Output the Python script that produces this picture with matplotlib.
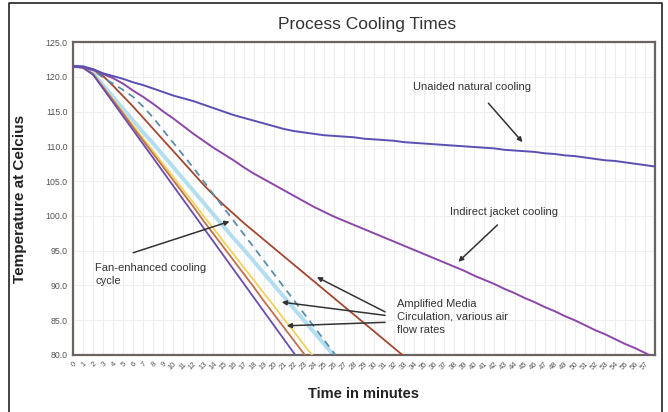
import matplotlib
matplotlib.use("Agg")
import matplotlib.pyplot as plt
from matplotlib.lines import Line2D

plt.rcParams['font.family'] = ['Liberation Sans', 'DejaVu Sans']

# ========== Data (minutes vs temperature, deg C) ==========
minutes = list(range(59))
tick_labels = [str(m) for m in range(58)]

natural = [121.5, 121.5, 121.1, 120.5, 120.1, 119.7, 119.2, 118.8, 118.3, 117.8,
           117.3, 116.9, 116.5, 116.0, 115.5, 115.0, 114.5, 114.1, 113.7, 113.3,
           112.9, 112.5, 112.2, 112.0, 111.8, 111.6, 111.5, 111.4, 111.3, 111.1,
           111.0, 110.9, 110.8, 110.6, 110.5, 110.4, 110.3, 110.2, 110.1, 110.0,
           109.9, 109.8, 109.7, 109.5, 109.4, 109.3, 109.2, 109.0, 108.9, 108.7,
           108.6, 108.4, 108.2, 108.0, 107.9, 107.7, 107.5, 107.3, 107.1]

jacket = [121.5, 121.4, 121.0, 120.4, 119.8, 119.0, 118.0, 117.1, 116.1, 115.0,
          114.0, 112.9, 111.8, 110.8, 109.8, 108.9, 108.0, 107.0, 106.1, 105.3,
          104.5, 103.7, 102.9, 102.1, 101.3, 100.6, 99.9, 99.3, 98.7, 98.1,
          97.5, 96.9, 96.3, 95.7, 95.1, 94.5, 93.9, 93.3, 92.7, 92.1,
          91.4, 90.8, 90.2, 89.5, 88.9, 88.2, 87.6, 86.9, 86.3, 85.6,
          85.0, 84.3, 83.6, 83.0, 82.3, 81.6, 81.0, 80.3, 79.6]

fan_purple = [121.5, 121.3, 120.3, 118.3, 116.3, 114.3, 112.3, 110.3, 108.3, 106.3,
              104.3, 102.3, 100.3, 98.3, 96.3, 94.3, 92.3, 90.3, 88.3, 86.3,
              84.3, 82.3, 80.3, 78.3]
fan_orange = [121.5, 121.3, 120.4, 118.5, 116.6, 114.7, 112.7, 110.8, 108.9, 107.0,
              105.1, 103.2, 101.3, 99.3, 97.4, 95.5, 93.6, 91.7, 89.8, 87.8,
              85.9, 84.0, 82.1, 80.2, 78.3]
fan_yellow = [121.5, 121.3, 120.4, 118.5, 116.7, 114.8, 113.0, 111.1, 109.3, 107.4,
              105.6, 103.7, 101.9, 100.0, 98.2, 96.3, 94.5, 92.6, 90.8, 88.9,
              87.1, 85.2, 83.4, 81.5, 79.7]
fan_light_blue = [121.5, 121.4, 120.5, 118.8, 117.1, 115.4, 113.7, 112.0, 110.4, 108.7,
                  107.0, 105.3, 103.6, 101.9, 100.2, 98.5, 96.8, 95.2, 93.5, 91.8,
                  90.1, 88.4, 86.7, 85.0, 83.3, 81.6, 79.9]
fan_dashed = [121.5, 121.4, 120.9, 119.9, 119.0, 118.1, 117.1, 115.7, 114.1, 112.3,
              110.5, 108.7, 106.9, 105.0, 103.1, 101.2, 99.3, 97.4, 95.5, 93.6,
              91.7, 89.8, 87.9, 86.0, 84.1, 82.2, 80.3, 78.4]
fan_brown = [121.5, 121.4, 121.0, 120.1, 118.7, 117.2, 115.7, 114.1, 112.5, 110.9,
             109.3, 107.7, 106.1, 104.5, 103.0, 101.6, 100.3, 99.0, 97.8, 96.6,
             95.4, 94.2, 93.0, 91.8, 90.6, 89.4, 88.2, 87.0, 85.8, 84.6,
             83.4, 82.2, 81.0, 79.8]

y_ticks = [80, 85, 90, 95, 100, 105, 110, 115, 120, 125]

# ========== Figure ==========
fig = plt.figure(figsize=(6.68, 4.12), dpi=100)
ax = fig.add_axes([73 / 668, 1 - 355 / 412, 582 / 668, 313 / 412])

# faint grid like the scanned excel chart
for m in range(59):
    ax.axvline(m, color='#ededed', lw=0.8, zorder=0)
for y in y_ticks:
    ax.axhline(y, color='#efefef', lw=0.8, zorder=0)

ax.plot(minutes[:len(fan_light_blue)], fan_light_blue, color='#b2def0', lw=2.8, zorder=2)
ax.plot(minutes[:len(fan_brown)], fan_brown, color='#a4472f', lw=1.3, zorder=3)
ax.plot(minutes[:len(fan_dashed)], fan_dashed, color='#5b8ea8', lw=1.3, ls=(0, (4, 3)), zorder=3)
ax.plot(minutes[:len(fan_yellow)], fan_yellow, color='#f0d25a', lw=1.3, zorder=3)
ax.plot(minutes[:len(fan_orange)], fan_orange, color='#c0704a', lw=1.3, zorder=3)
ax.plot(minutes[:len(fan_purple)], fan_purple, color='#6a4caf', lw=1.3, zorder=3)
ax.plot(minutes, jacket, color='#8c47a8', lw=1.4, zorder=3)
ax.plot(minutes, natural, color='#5a4fb3', lw=1.4, zorder=3)

ax.set_xlim(0, 58)
ax.set_ylim(80, 125)
ax.set_yticks(y_ticks)
ax.set_yticklabels([f"{v:.1f}" for v in y_ticks], fontsize=6.3, color='#555555')
ax.set_xticks(range(58))
ax.set_xticklabels(tick_labels, rotation=45, ha='right', rotation_mode='anchor',
                   fontsize=5.5, color='#555555')
ax.tick_params(length=0, pad=4)

for s in ax.spines.values():
    s.set_color('#6b6360')
    s.set_linewidth(1.6)

ax.set_xlabel("Time in minutes", fontsize=10.5, fontweight='bold', color='#222222', labelpad=11)
ax.set_ylabel("Temperature at Celcius", fontsize=11, fontweight='bold', color='#222222', labelpad=13)
fig.text(0.549, 1 - 25 / 412, "Process Cooling Times", ha='center', va='center',
         fontsize=12.5, color='#333333')

# ========== Annotations ==========
arr = dict(arrowstyle='-|>', color='#333333', lw=1.1, mutation_scale=7, shrinkA=0, shrinkB=0)
txt = dict(fontsize=8, color='#333333')

ax.text(33.9, 118.5, "Unaided natural cooling", va='center', **txt)
ax.annotate("", xy=(44.8, 110.6), xytext=(41.4, 116.2), arrowprops=arr)

ax.text(37.6, 100.5, "Indirect jacket cooling", va='center', **txt)
ax.annotate("", xy=(38.4, 93.4), xytext=(42.3, 98.7), arrowprops=arr)

ax.text(2.2, 91.6, "Fan-enhanced cooling\ncycle", va='center', linespacing=1.45, **txt)
ax.annotate("", xy=(15.6, 99.2), xytext=(6.0, 94.7), arrowprops=arr)

ax.text(32.3, 85.5, "Amplified Media\nCirculation, various air\nflow rates", va='center',
        linespacing=1.4, **txt)
ax.annotate("", xy=(24.3, 91.2), xytext=(31.1, 86.2), arrowprops=arr)
ax.annotate("", xy=(20.8, 87.6), xytext=(31.1, 85.7), arrowprops=arr)
ax.annotate("", xy=(21.3, 84.2), xytext=(31.1, 84.7), arrowprops=arr)

# outer frame of the scanned figure
fx0, fx1, fy1 = 9 / 668, 662 / 668, 1 - 3 / 412
fig.add_artist(Line2D([fx0, fx0, fx1, fx1], [0, fy1, fy1, 0], color='#222222', lw=1.2))

fig.savefig("out.png", dpi=100)
